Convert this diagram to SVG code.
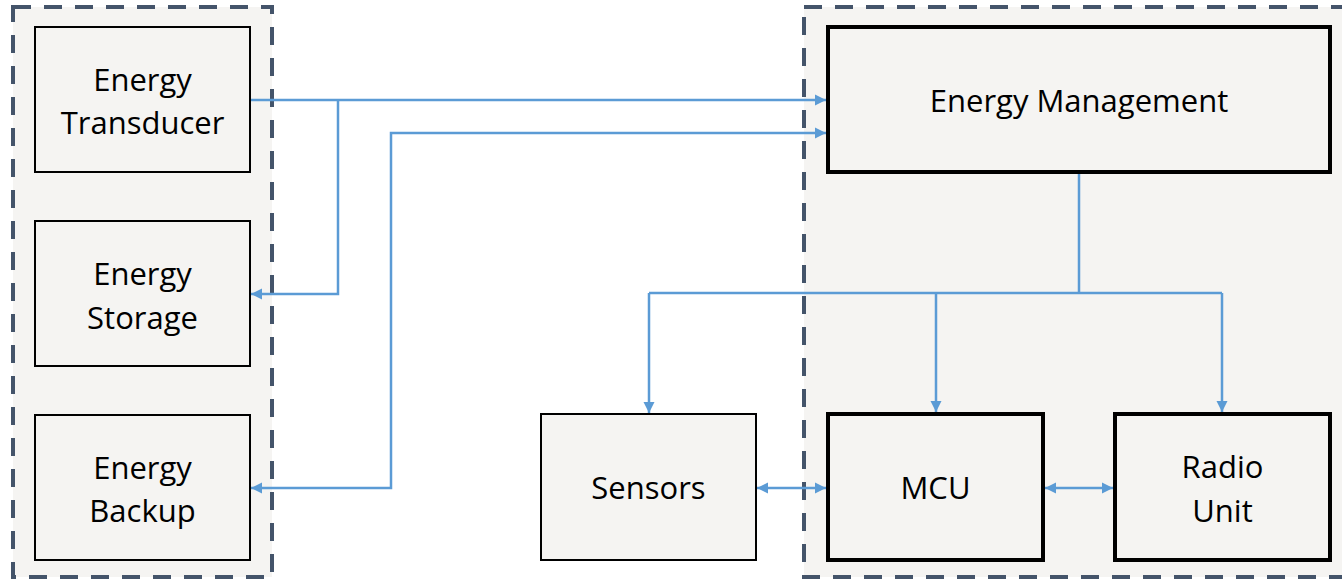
<svg xmlns="http://www.w3.org/2000/svg" width="1342" height="579" viewBox="0 0 1342 579">
<defs>
<style>
.grp{fill:#F5F4F2;stroke:#44546A;stroke-width:4;stroke-dasharray:18 13}
.box{fill:#F5F4F2;stroke:#000;stroke-width:2}
.tbox{fill:#F5F4F2;stroke:#000;stroke-width:4}
.lbl{font-family:"Open Sans","Liberation Sans",sans-serif;font-size:31px;fill:#000;text-anchor:middle}
.con{fill:none;stroke:#5B9BD5;stroke-width:2.5}
</style>
<marker id="ah" markerUnits="userSpaceOnUse" markerWidth="12" markerHeight="12" refX="11" refY="5.5" orient="auto-start-reverse" viewBox="0 0 12 11">
<path d="M0,0 L11,5.5 L0,11 z" fill="#5B9BD5"/>
</marker>
</defs>
<rect width="1342" height="579" fill="#fff"/>
<g id="group-left"><rect class="grp" x="13" y="7" width="259" height="570"/></g>
<g id="group-right"><rect class="grp" x="804" y="7" width="560" height="570"/></g>
<g id="connectors">
<path class="con" d="M250,100 H826" marker-end="url(#ah)"/>
<path class="con" d="M338,100 V294 H251" marker-end="url(#ah)"/>
<path class="con" d="M251,488 H391 V133 H826" marker-start="url(#ah)" marker-end="url(#ah)"/>
<path class="con" d="M1079,174 V293"/>
<path class="con" d="M649,293 H1222"/>
<path class="con" d="M649,293 V413" marker-end="url(#ah)"/>
<path class="con" d="M936,293 V412" marker-end="url(#ah)"/>
<path class="con" d="M1222,293 V412" marker-end="url(#ah)"/>
<path class="con" d="M757,488 H826" marker-start="url(#ah)" marker-end="url(#ah)"/>
<path class="con" d="M1045,488 H1113" marker-start="url(#ah)" marker-end="url(#ah)"/>
</g>
<g id="energy-transducer"><rect class="box" x="35" y="27" width="215" height="145"/><text class="lbl" x="142.5" y="91">Energy</text><text class="lbl" x="142.5" y="134">Transducer</text></g>
<g id="energy-storage"><rect class="box" x="35" y="221" width="215" height="145"/><text class="lbl" x="142.5" y="285">Energy</text><text class="lbl" x="142.5" y="329">Storage</text></g>
<g id="energy-backup"><rect class="box" x="35" y="415" width="215" height="145"/><text class="lbl" x="142.5" y="479">Energy</text><text class="lbl" x="142.5" y="522">Backup</text></g>
<g id="energy-management"><rect class="tbox" x="828" y="27" width="502" height="145"/><text class="lbl" x="1079" y="112">Energy Management</text></g>
<g id="sensors"><rect class="box" x="541" y="414" width="215" height="146"/><text class="lbl" x="648.5" y="499">Sensors</text></g>
<g id="mcu"><rect class="tbox" x="828" y="414" width="215" height="146"/><text class="lbl" x="935.5" y="499">MCU</text></g>
<g id="radio-unit"><rect class="tbox" x="1115" y="414" width="215" height="146"/><text class="lbl" x="1222.5" y="478">Radio</text><text class="lbl" x="1222.5" y="522">Unit</text></g>
</svg>
